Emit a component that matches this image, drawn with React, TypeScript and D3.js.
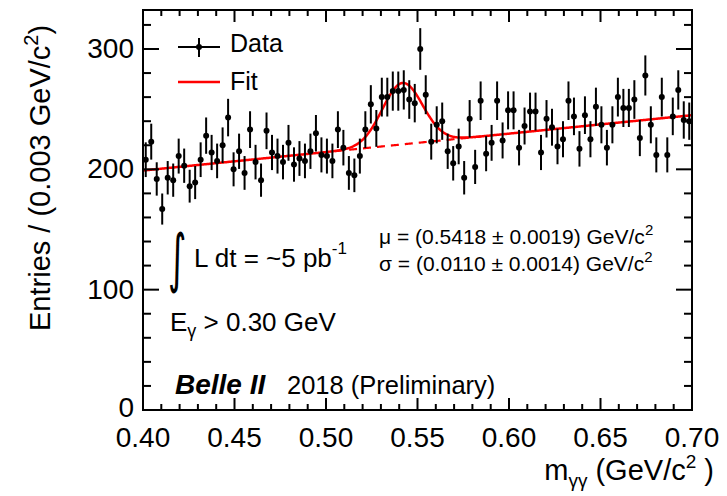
import React from "react";
import * as d3 from "d3";

// Diphoton invariant mass histogram, 100 bins of 0.003 GeV/c^2 from 0.40 to 0.70
const binLow = 0.4;
const binWidth = 0.003;
const counts = [
  208, 223, 192, 167, 193, 191, 211, 203, 186, 189,
  208, 228, 214, 207, 220, 243, 200, 215, 197, 233,
  206, 191, 232, 214, 211, 206, 222, 204, 209, 207,
  215, 230, 212, 211, 207, 233, 218, 197, 195, 211,
  233, 254, 234, 260, 260, 265, 265, 266, 258, 255,
  300, 262, 223, 237, 240, 215, 205, 219, 193, 242,
  202, 257, 213, 222, 257, 224, 249, 249, 218, 236,
  248, 248, 214, 242, 235, 219, 225, 257, 244, 217,
  245, 225, 252, 237, 218, 237, 260, 251, 251, 258,
  226, 278, 237, 212, 260, 212, 244, 266, 241, 240,
];

// Fit: Gaussian signal on a linear background
const bkgAt040 = 199;
const bkgSlope = 153.3; // entries per GeV/c^2
const sigAmp = 51;
const sigMean = 0.5418;
const sigSigma = 0.011;

const xTicksMajor = [0.4, 0.45, 0.5, 0.55, 0.6, 0.65, 0.7];
const xTickLabels = ["0.40", "0.45", "0.50", "0.55", "0.60", "0.65", "0.70"];
const yTicksMajor = [0, 100, 200, 300];

const W = 727;
const H = 496;
const L = 143, R = 692, T = 10, B = 410;
const FONT = "'Liberation Sans', Arial, Helvetica, sans-serif";

const x = d3.scaleLinear().domain([0.4, 0.7]).range([L, R]);
const y = d3.scaleLinear().domain([0, 332.4]).range([B, T]);

const bkg = (m: number) => bkgAt040 + bkgSlope * (m - 0.4);
const total = (m: number) =>
  bkg(m) + sigAmp * Math.exp(-0.5 * ((m - sigMean) / sigSigma) ** 2);

export default function App() {
  const grid = d3.range(0.4, 0.70001, 0.0005);
  const line = d3.line<number>().x((m) => x(m)).y((m) => y(total(m)));
  const bline = d3.line<number>().x((m) => x(m)).y((m) => y(bkg(m)));

  const xMinor = d3.range(0, 31).map((i) => 0.4 + i * 0.01);
  const yMinor = d3.range(0, 17).map((i) => i * 20);

  const pts = counts.map((c, i) => ({ m: binLow + binWidth * (i + 0.5), c }));

  return (
    <svg
      width={W}
      height={H}
      style={{ position: "absolute", left: 0, top: 0, background: "#fff" }}
      fontFamily={FONT}
    >
      <rect x={0} y={0} width={W} height={H} fill="#fff" />

      {/* fit curves */}
      <path d={bline([0.505, ...grid.filter((m) => m > 0.505 && m < 0.585), 0.585]) || ""} fill="none" stroke="#ff0000" strokeWidth={2.2} strokeDasharray="8,6" />
      <path d={line(grid) || ""} fill="none" stroke="#ff0000" strokeWidth={2.5} />

      {/* data points with Poisson errors */}
      {pts.map((p, i) => (
        <g key={i}>
          <line x1={x(p.m)} x2={x(p.m)} y1={y(p.c + Math.sqrt(p.c))} y2={y(p.c - Math.sqrt(p.c))} stroke="#000" strokeWidth={2} />
          <circle cx={x(p.m)} cy={y(p.c)} r={3} fill="#000" />
        </g>
      ))}

      {/* frame */}
      <rect x={L} y={T} width={R - L} height={B - T} fill="none" stroke="#000" strokeWidth={2} />

      {/* x ticks top and bottom */}
      {xMinor.map((v, i) => {
        const len = i % 5 === 0 ? 12 : 6;
        return (
          <g key={"xt" + i}>
            <line x1={x(v)} x2={x(v)} y1={B} y2={B - len} stroke="#000" strokeWidth={2} />
            <line x1={x(v)} x2={x(v)} y1={T} y2={T + len} stroke="#000" strokeWidth={2} />
          </g>
        );
      })}
      {/* y ticks left and right */}
      {yMinor.map((v, i) => {
        const len = i % 5 === 0 ? 16 : 8;
        return (
          <g key={"yt" + i}>
            <line x1={L} x2={L + len} y1={y(v)} y2={y(v)} stroke="#000" strokeWidth={2} />
            <line x1={R} x2={R - len} y1={y(v)} y2={y(v)} stroke="#000" strokeWidth={2} />
          </g>
        );
      })}

      {/* tick labels */}
      {xTicksMajor.map((v, i) => (
        <text key={"xl" + i} x={x(v)} y={447} textAnchor="middle" fontSize={28}>
          {xTickLabels[i]}
        </text>
      ))}
      {yTicksMajor.map((v) => (
        <text key={"yl" + v} x={134} y={y(v) + (v === 0 ? 7 : 9)} textAnchor="end" fontSize={28}>
          {v}
        </text>
      ))}

      {/* axis titles */}
      <text transform="translate(50,331) rotate(-90)" fontSize={29}>
        Entries / (0.003 GeV/c
        <tspan fontSize={20} dy={-12}>2</tspan>
        <tspan dy={12}>)</tspan>
      </text>
      <text x={714} y={480} textAnchor="end" fontSize={29}>
        m<tspan fontSize={19} dy={7}>γγ</tspan>
        <tspan dy={-7}> (GeV/c</tspan>
        <tspan fontSize={19} dy={-12}>2</tspan>
        <tspan dy={12}> )</tspan>
      </text>

      {/* legend */}
      <line x1={178} x2={220} y1={47} y2={47} stroke="#000" strokeWidth={2} />
      <line x1={199} x2={199} y1={38} y2={57} stroke="#000" strokeWidth={2} />
      <circle cx={199} cy={47} r={3} fill="#000" />
      <text x={230} y={52} fontSize={25}>Data</text>
      <line x1={178} x2={220} y1={82} y2={82} stroke="#ff0000" strokeWidth={2.5} />
      <text x={230} y={90} fontSize={25}>Fit</text>

      {/* annotations */}
      <text transform="translate(168,280) scale(0.55,1)" fontSize={64} fontFamily="'DejaVu Sans', sans-serif">∫</text>
      <text x={194} y={267} fontSize={26}>
        L dt = ~5 pb<tspan fontSize={17} dy={-13}>-1</tspan>
      </text>
      <text x={379} y={244} fontSize={21}>
        μ = (0.5418 ± 0.0019) GeV/c<tspan fontSize={15} dy={-9}>2</tspan>
      </text>
      <text x={379} y={271} fontSize={21}>
        σ = (0.0110 ± 0.0014) GeV/c<tspan fontSize={15} dy={-9}>2</tspan>
      </text>
      <text x={170} y={331} fontSize={26}>
        E<tspan fontSize={18} dy={6}>γ</tspan>
        <tspan dy={-6}> &gt; 0.30 GeV</tspan>
      </text>
      <text x={175} y={394} fontSize={28} fontWeight="bold" fontStyle="italic">Belle II</text>
      <text x={287} y={394} fontSize={25.5}>2018 (Preliminary)</text>
    </svg>
  );
}
